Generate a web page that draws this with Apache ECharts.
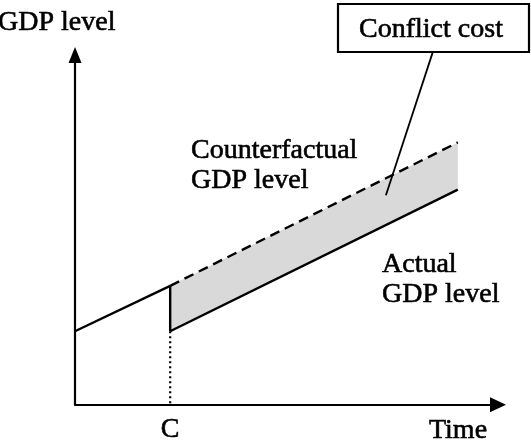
<!DOCTYPE html>
<html>
<head>
<meta charset="utf-8">
<script src="https://cdn.jsdelivr.net/npm/echarts@6/dist/echarts.min.js"></script>
<style>
  html, body { margin: 0; padding: 0; background: #fff; }
  #chart { width: 531px; height: 444px; }
</style>
</head>
<body>
<div id="chart"></div>
<script>
// time axis positions (0..100) and GDP level (0..100)
const preX = [0, 22.5];
const preY = [21, 34];
const postX = [22.5, 90.5];
const actualY = [21, 61.5];
const counterY = [34, 75];
const shockX = [22.5, 22.5];
const dropY = [34, 21];
const guideY = [21, 0];
const calloutX = [84.6, 73.5];
const calloutY = [100.9, 59.9];
const xTickValues = [22.5];
const xTickLabels = ['C'];

const font = '"Liberation Serif", "DejaVu Serif", serif';
const ink = '#000';
// the original lettering is a bit heavier than Liberation Serif
const heavy = { stroke: ink, lineWidth: 0.6 };

const pairs = (xs, ys) => xs.map((x, i) => [x, ys[i]]);

const chart = echarts.init(document.getElementById('chart'));

const lineSeries = (data, style, extra) => Object.assign({
    type: 'line',
    data: data,
    symbol: 'none',
    silent: true,
    animation: false,
    lineStyle: Object.assign({ color: ink, width: 2.4 }, style)
}, extra || {});

const label = (text, x, y, align, vAlign) => ({
    type: 'text',
    style: Object.assign({
        text: text, x: x, y: y, align: align, verticalAlign: vAlign,
        font: '28px ' + font, lineHeight: 30, fill: ink
    }, heavy)
});

chart.setOption({
    animation: false,
    grid: { left: 75, top: 55, right: 33, bottom: 38 },
    xAxis: {
        type: 'value',
        min: 0,
        max: 100,
        splitLine: { show: false },
        axisTick: { show: false },
        axisLine: {
            lineStyle: { color: ink, width: 2.2 },
            symbol: ['none', 'triangle'],
            symbolSize: [15, 16]
        },
        axisLabel: {
            customValues: xTickValues,
            formatter: v => xTickLabels[xTickValues.indexOf(v)] || '',
            margin: 11,
            color: ink,
            fontFamily: font,
            fontSize: 28,
            textBorderColor: ink,
            textBorderWidth: 0.6
        }
    },
    yAxis: {
        type: 'value',
        min: 0,
        max: 100,
        splitLine: { show: false },
        axisTick: { show: false },
        axisLabel: { show: false },
        axisLine: {
            lineStyle: { color: ink, width: 2.2 },
            symbol: ['none', 'triangle'],
            symbolSize: [13, 16]
        }
    },
    series: [
        {
            // conflict cost band between the two paths
            type: 'custom',
            silent: true,
            data: [0],
            renderItem: (params, api) => {
                const top = postX.map((x, i) => api.coord([x, counterY[i]]));
                const bottom = postX.map((x, i) => api.coord([x, actualY[i]])).reverse();
                return {
                    type: 'polygon',
                    shape: { points: top.concat(bottom) },
                    style: { fill: '#d9d9d9', stroke: null }
                };
            }
        },
        lineSeries(pairs(preX, preY), {}),
        lineSeries(pairs(shockX, dropY), {}),
        lineSeries(pairs(postX, actualY), {}),
        lineSeries(pairs(postX, counterY), { type: [10, 6] }),
        lineSeries(pairs(shockX, guideY), { type: [2, 3], width: 2.2 }),
        lineSeries(pairs(calloutX, calloutY), { width: 1.8 }, { clip: false })
    ],
    graphic: [
        {
            type: 'rect',
            shape: { x: 338, y: 4, width: 191, height: 48 },
            style: { fill: '#fff', stroke: ink, lineWidth: 2.2 }
        },
        label('Conflict cost', 431, 30, 'center', 'middle'),
        label('GDP level', -2, 23, 'left', 'middle'),
        label('Counterfactual\nGDP level', 191, 136, 'left', 'top'),
        label('Actual\nGDP level', 382, 250, 'left', 'top'),
        label('Time', 458, 431, 'center', 'middle')
    ]
});
</script>
</body>
</html>
